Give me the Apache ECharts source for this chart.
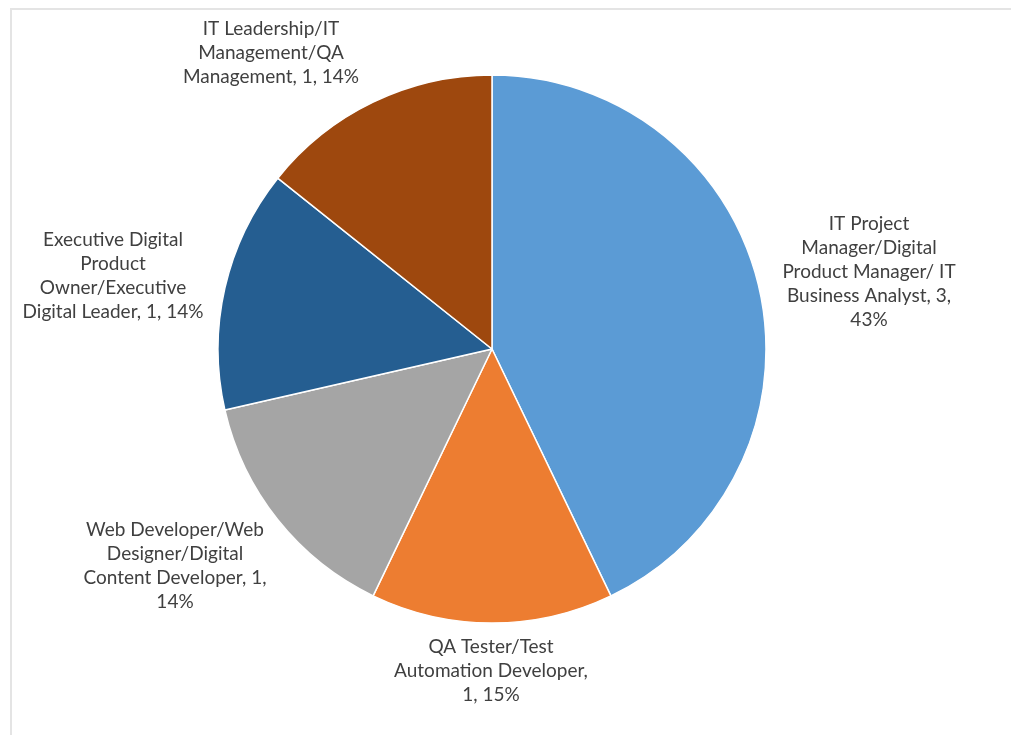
<!DOCTYPE html>
<html>
<head>
<meta charset="utf-8">
<script src="https://cdn.jsdelivr.net/npm/echarts@6/dist/echarts.min.js"></script>
<style>
html,body{margin:0;padding:0;background:#fff;}
#chart{width:1011px;height:735px;}
</style>
</head>
<body>
<div id="chart"></div>
<script>
// Data (clockwise from 12 o'clock); "\n" marks where the label text wraps
const categories = [
  "IT Project\nManager/Digital\nProduct Manager/ IT\nBusiness Analyst",
  "QA Tester/Test\nAutomation Developer",
  "Web Developer/Web\nDesigner/Digital\nContent Developer",
  "Executive Digital\nProduct\nOwner/Executive\nDigital Leader",
  "IT Leadership/IT\nManagement/QA\nManagement"
];
const values = [3, 1, 1, 1, 1];
const percentLabels = ["43%", "15%", "14%", "14%", "14%"];
const colors = ["#5B9BD5", "#ED7D31", "#A5A5A5", "#255E91", "#9E480E"];

// label placement / wrapping (layout only)
const labelAnchors = [
  {x: 869, y: 272, sepA: ' ',  sepB: '\n'},
  {x: 491, y: 671, sepA: '\n', sepB: ' '},
  {x: 175, y: 566, sepA: ' ',  sepB: '\n'},
  {x: 113, y: 276, sepA: ' ',  sepB: ' '},
  {x: 271, y: 53,  sepA: ' ',  sepB: ' '}
];

const chart = echarts.init(document.getElementById('chart'), null, {renderer: 'canvas'});
const option = {
  backgroundColor: '#ffffff',
  animation: false,
  graphic: [{
    type: 'rect',
    shape: {x: 11, y: 9, width: 1100, height: 900},
    style: {fill: 'none', stroke: '#e4e4e4', lineWidth: 2},
    silent: true
  }],
  series: [{
    type: 'pie',
    center: [492, 349],
    radius: 274,
    startAngle: 90,
    clockwise: true,
    avoidLabelOverlap: false,
    itemStyle: {borderColor: '#ffffff', borderWidth: 1.5},
    labelLine: {show: false},
    label: {
      show: true,
      position: 'outside',
      fontFamily: 'Lato, "Open Sans", sans-serif',
      fontSize: 19,
      lineHeight: 24,
      color: '#404040',
      align: 'center',
      formatter: function (p) {
        const a = labelAnchors[p.dataIndex];
        return p.name + ',' + a.sepA + p.value + ',' + a.sepB + percentLabels[p.dataIndex];
      }
    },
    labelLayout: function (p) {
      const a = labelAnchors[p.dataIndex];
      return {x: a.x, y: a.y, align: 'center', verticalAlign: 'middle'};
    },
    data: categories.map(function (c, i) {
      return {
        name: c,
        value: values[i],
        itemStyle: {color: colors[i]}
      };
    })
  }]
};
chart.setOption(option);
</script>
</body>
</html>
